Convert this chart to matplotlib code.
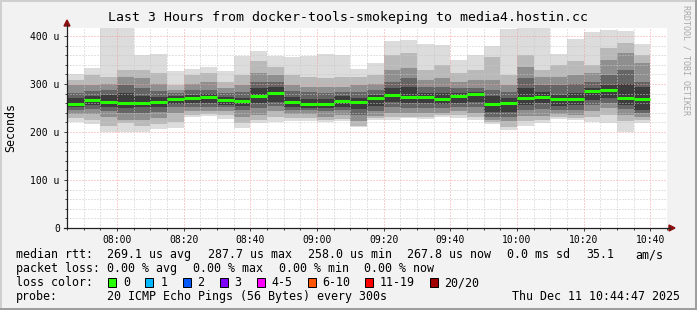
import matplotlib
matplotlib.use("Agg")
import matplotlib.pyplot as plt
from matplotlib.patches import Rectangle, Polygon
from matplotlib.lines import Line2D
import numpy as np

# 5-minute rounds starting 07:45, values in microseconds
starts = np.arange(0, 175, 5)  # minutes after 07:45
mins = [221, 216, 201, 200, 201, 207, 209, 232, 234,
        228, 208, 218, 221.5, 223.6, 223.6, 220, 223, 210,
        225, 225, 228.5, 227, 232, 230, 225, 217, 204,
        212, 219, 227, 225, 221.5, 218, 200, 218]
b2lo = [230, 226, 213, 218, 213, 216, 220, 236, 237,
        236, 218, 225, 231, 229, 229, 225, 227, 213,
        229, 231, 232, 232, 236, 236, 231, 220, 211,
        222, 225, 231, 229, 231, 236, 222, 224]
b3lo = [237, 238, 231, 226, 225, 229, 239, 243, 243,
        243, 232, 236, 243, 237, 237, 232, 236, 223,
        234, 239, 239, 239, 240, 243, 240, 225, 222,
        234, 234, 237, 236, 243, 249, 236, 231]
b4lo = [245, 247, 243, 239, 239, 241, 252, 252, 252,
        252, 245, 249, 254, 246, 245, 243, 246, 236,
        243, 252, 249, 249, 249, 252, 253, 232, 232,
        245, 247, 245, 246, 256, 260, 247, 239]
b5lo = [252, 256, 252, 249, 252, 252, 258, 260, 260,
        256, 254, 260, 263, 253, 249, 249, 253, 247,
        254, 263, 260, 260, 258, 260, 263, 242, 242,
        256, 260, 254, 256, 267, 270, 256, 246]
medians = [258.0, 266, 263, 260, 261, 262.5, 269, 271.5, 273.5,
           267, 264, 276, 282, 262, 259, 259, 264, 263,
           271, 278, 273, 272, 269, 274, 280, 259, 260,
           270, 272, 269, 269, 286, 287.7, 271.5, 267.8]
b5hi = [270, 274, 278, 281, 274, 272, 274, 278, 280,
        272, 270, 291, 294, 272, 268, 268, 274, 270,
        277, 291, 294, 281, 281, 281, 283, 274, 270,
        291, 284, 278, 281, 291, 298, 301, 294]
b4hi = [282, 285, 287, 298, 291, 285, 281, 287, 287,
        281, 284, 305, 305, 285, 284, 281, 284, 284,
        287, 305, 312, 294, 294, 291, 291, 287, 284,
        312, 298, 298, 301, 305, 319, 329, 305]
b3hi = [298, 298, 301, 315, 312, 301, 288, 301, 305,
        291, 298, 322, 319, 298, 294, 294, 294, 298,
        301, 329, 333, 308, 312, 305, 308, 308, 298,
        336, 315, 315, 319, 322, 350, 364, 343]
b2hi = [308, 318, 314, 329, 329, 322, 298, 319, 322,
        305, 319, 347, 336, 319, 315, 312, 315, 315,
        319, 360, 364, 329, 340, 322, 329, 357, 319,
        360, 329, 340, 347, 340, 375, 385, 360]
maxs = [320, 333, 418, 418, 360, 362, 327, 331, 336,
        327, 359, 369, 359, 357, 359, 362, 360, 331,
        343, 390, 391, 383, 381, 350, 360, 379, 415,
        418, 418, 362, 394, 408, 412, 410, 383]

xtick_pos = [15, 35, 55, 75, 95, 115, 135, 155, 175]
xtick_labels = ["08:00", "08:20", "08:40", "09:00", "09:20",
                "09:40", "10:00", "10:20", "10:40"]
ytick_pos = [0, 100, 200, 300, 400]
ytick_labels = ["0", "100 u", "200 u", "300 u", "400 u"]

loss_labels = ["0", "1", "2", "3", "4-5", "6-10", "11-19", "20/20"]
loss_colors = ["#26ff00", "#00b8ff", "#0059ff", "#7e00ff",
               "#ff00ff", "#ff5500", "#ff0000", "#a10000"]

W, H = 697, 310
MONO = "DejaVu Sans Mono"

def fx(px):
    return px / W

def fy(py):
    return 1 - py / H

fig = plt.figure(figsize=(W / 100, H / 100), dpi=100, facecolor="#f2f2f2")
ax = fig.add_axes([fx(67), fy(228), 600 / W, 200 / H])
ax.set_facecolor("white")

# smoke: nested bands, lightest outside
bands = [(mins, maxs, "#dcdcdc"), (b2lo, b2hi, "#b9b9b9"),
         (b3lo, b3hi, "#8f8f8f"), (b4lo, b4hi, "#656565"),
         (b5lo, b5hi, "#3c3c3c")]
for lo, hi, col in bands:
    lo = np.array(lo)
    hi = np.array(hi)
    ax.bar(starts, hi - lo, bottom=lo, width=5, align="edge",
           color=col, linewidth=0, zorder=1)

ax.hlines(medians, starts, starts + 5, colors="#26ff00", linewidth=2.2, zorder=4)

ax.set_xlim(0, 180)
ax.set_ylim(0, 416.67)

ax.set_xticks(xtick_pos)
ax.set_xticklabels(xtick_labels, fontfamily=MONO, fontsize=7)
ax.set_xticks(np.arange(0, 181, 5), minor=True)
ax.set_yticks(ytick_pos)
ax.set_yticklabels(ytick_labels, fontfamily=MONO, fontsize=7)
ax.set_yticks(np.arange(0, 417, 20), minor=True)

ax.set_axisbelow(False)
ax.grid(which="minor", color="#c8c8c8", linestyle=(0, (1, 2)), linewidth=0.72)
ax.grid(which="major", color="#f0a0a0", linestyle=(0, (1, 2)), linewidth=0.72)
ax.tick_params(which="both", direction="out", color="#404040", width=0.72)
ax.tick_params(which="major", length=2.2, pad=3)
ax.tick_params(which="minor", length=1.5)
for s in ax.spines.values():
    s.set_visible(False)

# axis lines with arrows
fig.add_artist(Line2D([fx(67), fx(67)], [fy(228), fy(25)], color="#202020", lw=0.9))
fig.add_artist(Line2D([fx(64), fx(670)], [fy(228), fy(228)], color="#202020", lw=0.9))
fig.add_artist(Polygon([[fx(64), fy(26)], [fx(70), fy(26)], [fx(67), fy(20)]],
                       closed=True, color="#8b1010"))
fig.add_artist(Polygon([[fx(669), fy(225)], [fx(669), fy(231)], [fx(675), fy(228)]],
                       closed=True, color="#8b1010"))

# border shading
fig.add_artist(Rectangle((0, 0), fx(2), 1, color="#cfcfcf", lw=0))
fig.add_artist(Rectangle((0, fy(2)), 1, 2 / H, color="#cfcfcf", lw=0))
fig.add_artist(Rectangle((fx(695), 0), fx(2), 1, color="#9e9e9e", lw=0))
fig.add_artist(Rectangle((0, 0), 1, 2 / H, color="#9e9e9e", lw=0))

fig.text(fx(348), fy(18), "Last 3 Hours from docker-tools-smokeping to media4.hostin.cc",
         ha="center", va="center", fontfamily=MONO, fontsize=9.5)
fig.text(fx(11), fy(128), "Seconds", rotation=90, ha="center", va="center",
         fontfamily=MONO, fontsize=8.4)
fig.text(fx(686), fy(5), "RRDTOOL / TOBI OETIKER", rotation=-90, ha="center", va="top",
         fontfamily=MONO, fontsize=6, color="#a8a8a8")

# legend rows
row1 = [(16, "median rtt:"), (107, "269.1 us avg"), (208, "287.7 us max"),
        (307.6, "258.0 us min"), (407, "267.8 us now"), (507, "0.0 ms sd"),
        (586.7, "35.1"), (635.6, "am/s")]
row2 = [(16, "packet loss:"), (107, "0.00 % avg"), (193, "0.00 % max"),
        (279, "0.00 % min"), (364, "0.00 % now")]
for y, row in [(254.5, row1), (268.5, row2)]:
    for x, t in row:
        fig.text(fx(x), fy(y), t, ha="left", va="center", fontfamily=MONO, fontsize=8.4)

fig.text(fx(16), fy(282.5), "loss color:", ha="left", va="center", fontfamily=MONO, fontsize=8.4)
box_x = [108.4, 145.3, 182.7, 219.6, 256.9, 307.6, 365.3, 430.2]
lab_x = [123, 160.4, 197.3, 234, 271.6, 322, 380, 444.4]
for bx, lx, lab, col in zip(box_x, lab_x, loss_labels, loss_colors):
    fig.add_artist(Rectangle((fx(bx), fy(287)), 8 / W, 9 / H, facecolor=col,
                             edgecolor="black", lw=0.72))
    fig.text(fx(lx), fy(282.5), lab, ha="left", va="center", fontfamily=MONO, fontsize=8.4)

fig.text(fx(16), fy(296.5), "probe:", ha="left", va="center", fontfamily=MONO, fontsize=8.4)
fig.text(fx(107), fy(296.5), "20 ICMP Echo Pings (56 Bytes) every 300s",
         ha="left", va="center", fontfamily=MONO, fontsize=8.4)
fig.text(fx(680), fy(296.5), "Thu Dec 11 10:44:47 2025",
         ha="right", va="center", fontfamily=MONO, fontsize=8.4)

fig.savefig("out.png", dpi=100, facecolor=fig.get_facecolor())
